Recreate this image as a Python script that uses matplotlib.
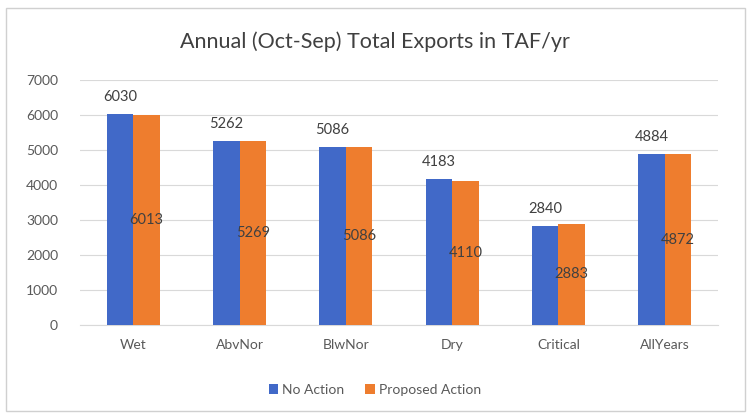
import numpy as np
import matplotlib
matplotlib.use("Agg")
import matplotlib.pyplot as plt
from matplotlib.patches import Rectangle

# chart data
CATEGORIES = ["Wet", "AbvNor", "BlwNor", "Dry", "Critical", "AllYears"]
NO_ACTION = [6030, 5262, 5086, 4183, 2840, 4884]
PROPOSED_ACTION = [6013, 5269, 5086, 4110, 2883, 4872]
Y_TICKS = [0, 1000, 2000, 3000, 4000, 5000, 6000, 7000]

BLUE = "#4169C8"
ORANGE = "#EE7D2E"
TEXT = "#404040"


def main():
    plt.rcParams["font.family"] = ["Lato", "DejaVu Sans"]
    fig = plt.figure(figsize=(7.5, 4.17), dpi=100)
    fig.patches.append(Rectangle((0.008, 0.015), 0.985, 0.965, transform=fig.transFigure,
                                 fill=False, edgecolor="#d0d0d0", linewidth=1.0))
    ax = fig.add_axes([0.107, 0.221, 0.85, 0.587])

    x = np.arange(len(CATEGORIES))
    w = 0.25
    ax.bar(x - w / 2, NO_ACTION, w, color=BLUE, label="No Action", zorder=3)
    ax.bar(x + w / 2, PROPOSED_ACTION, w, color=ORANGE, label="Proposed Action", zorder=3)

    for i in range(len(CATEGORIES)):
        ax.text(x[i] - w / 2, NO_ACTION[i] + 280, str(NO_ACTION[i]), ha="center",
                va="bottom", fontsize=10.5, color=TEXT)
        ax.text(x[i] + w / 2, PROPOSED_ACTION[i] / 2, str(PROPOSED_ACTION[i]), ha="center",
                va="center", fontsize=10.5, color=TEXT, zorder=4)

    ax.set_xlim(-0.5, len(CATEGORIES) - 0.5)
    ax.set_ylim(0, 7000)
    ax.set_yticks(Y_TICKS)
    ax.set_xticks(x)
    ax.set_xticklabels(CATEGORIES)
    ax.tick_params(axis="both", length=0, labelsize=10, labelcolor="#595959")
    ax.tick_params(axis="x", pad=10)
    ax.tick_params(axis="y", pad=16)
    ax.grid(axis="y", color="#d9d9d9", linewidth=0.8, zorder=0)
    for side in ["top", "right", "left"]:
        ax.spines[side].set_visible(False)
    ax.spines["bottom"].set_color("#d9d9d9")

    fig.text(0.5, 0.9, "Annual (Oct-Sep) Total Exports in TAF/yr", ha="center",
             va="center", fontsize=15.5, color=TEXT)
    ax.legend(loc="center", bbox_to_anchor=(0.5, 0.065), bbox_transform=fig.transFigure,
              ncol=2, frameon=False, fontsize=10, handlelength=0.7, handleheight=0.7,
              columnspacing=1.5, handletextpad=0.3, labelcolor="#595959")

    fig.savefig("out.png", dpi=100)


if __name__ == "__main__":
    main()
